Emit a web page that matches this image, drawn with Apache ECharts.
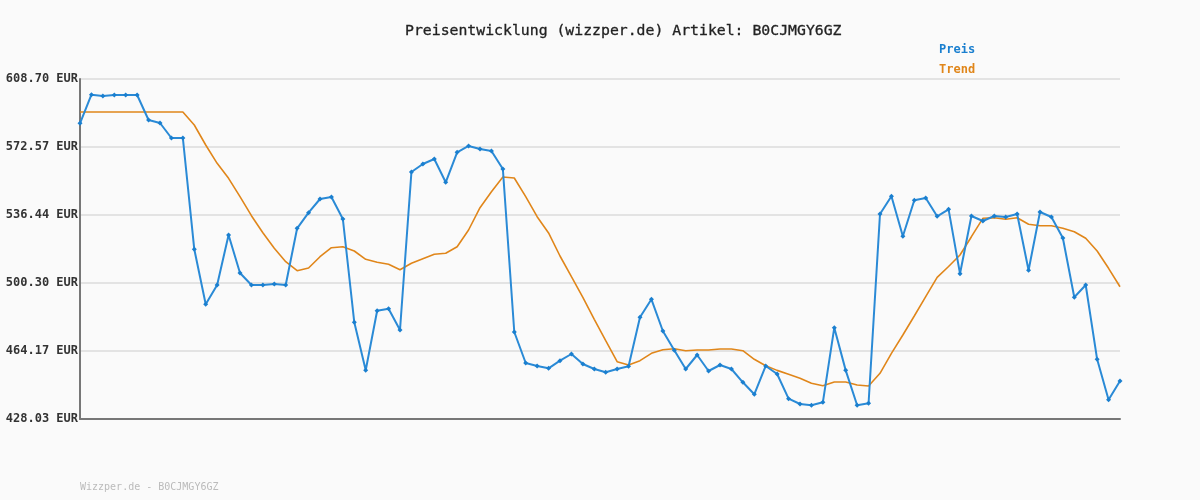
<!DOCTYPE html>
<html><head><meta charset="utf-8">
<script src="https://cdn.jsdelivr.net/npm/echarts@6/dist/echarts.min.js"></script>
<style>html,body{margin:0;padding:0;background:#fafafa}#c{width:1200px;height:500px}</style>
</head><body><div id="c"></div>
<script>
const yMin = 428.03, yMax = 608.70;
const yTicks = [428.03, 464.17, 500.30, 536.44, 572.57, 608.70];
const preis = [585.16,600.36,599.67,600.2,600.2,600.2,586.91,585.32,577.35,577.35,
518.21,488.98,499.23,525.80,505.61,499.23,499.23,499.77,499.23,
529.36,537.65,544.94,546.0,534.31,479.41,453.92,485.58,486.65,475.33,
559.28,563.53,566.19,553.81,
569.75,573.1,571.5,570.44,560.88,474.26,457.79,456.20,454.97,459.01,462.57,457.26,454.60,452.84,454.60,456.04,482.08,491.64,474.80,464.54,454.60,462.04,453.54,456.73,454.60,447.53,441.15,456.20,451.95,438.82,436.0,435.31,436.9,476.56,453.87,435.31,
436.37,536.96,546.37,525.11,544.24,545.47,535.74,539.46,505.24,535.90,533.24,535.90,535.37,536.96,507.04,538.03,535.37,524.21,492.70,499.23,459.75,438.28,448.23];
const trend = [591.16,591.16,591.16,591.16,591.16,591.16,591.16,591.16,591.16,591.16,
584.26,573.63,563.9,555.93,546.16,536.06,527.03,518.74,511.62,506.83,508.27,514.27,519.06,519.59,517.3,512.9,511.3,510.24,507.37,510.77,513.2,515.55,516.08,
519.59,528.46,540.31,548.81,556.62,556.1,546.16,535.53,526.90,514.64,503.64,492.70,481.01,469.64,458.48,456.73,459.01,462.94,464.85,465.39,464.32,464.70,464.70,465.23,465.23,464.32,459.75,456.36,453.87,451.78,449.66,447.0,445.72,447.69,447.69,446.10,
445.57,452.31,462.94,472.67,482.76,493.02,503.33,509.06,515.17,524.9,534.68,535.0,534.15,535.0,531.49,530.75,530.75,529.36,527.56,524.05,517.30,508.11,498.33];
const cats = preis.map((_, i) => String(i + 1));
const step = (yMax - yMin) / 5;
const off = a => a.map(v => +(v - yMin).toFixed(3));
const mono = 'DejaVu Sans Mono';
const chart = echarts.init(document.getElementById('c'));
chart.setOption({
  backgroundColor: '#fafafa',
  animation: false,
  title: { text: 'Preisentwicklung (wizzper.de) Artikel: B0CJMGY6GZ', left: 400, top: 19,
    textStyle: { fontFamily: mono, fontSize: 14.8, fontWeight: 'normal', color: '#222', textBorderColor: '#222', textBorderWidth: 0.3 } },
  legend: { orient: 'vertical', left: 934, top: 39, itemGap: 8, itemWidth: 0, itemHeight: 0, icon: 'none',
    data: [ { name: 'Preis', textStyle: { color: '#1a7fcf' } }, { name: 'Trend', textStyle: { color: '#e0861a' } } ],
    textStyle: { fontFamily: mono, fontSize: 12, fontWeight: 'bold', padding: [0,0,0,-5] } },
  graphic: [{ type: 'text', left: 80, top: 482, style: { text: 'Wizzper.de - B0CJMGY6GZ', fill: '#bbb', font: '10px ' + mono } }],
  grid: { left: 80, right: 80, top: 79, bottom: 81 },
  xAxis: { type: 'category', data: cats, boundaryGap: false,
    axisLine: { lineStyle: { color: '#777', width: 2 } }, axisTick: { show: false }, axisLabel: { show: false } },
  yAxis: { type: 'value', min: 0, max: +(yMax - yMin).toFixed(3), interval: step,
    axisLine: { show: true, lineStyle: { color: '#777', width: 2 } },
    splitLine: { lineStyle: { color: '#e3e3e3', width: 2 } },
    axisLabel: { fontFamily: mono, fontSize: 12, fontWeight: 'bold', color: '#333', margin: 2,
      formatter: v => { let best = yTicks.reduce((a, b) => Math.abs(b - yMin - v) < Math.abs(a - yMin - v) ? b : a); return best.toFixed(2) + ' EUR'; } } },
  series: [
    { name: 'Preis', type: 'line', data: off(preis), symbol: 'diamond', symbolSize: 5, showAllSymbol: true,
      itemStyle: { color: '#1a7fcf' }, lineStyle: { color: '#2a8ad6', width: 2 }, z: 3 },
    { name: 'Trend', type: 'line', data: off(trend), showSymbol: false,
      lineStyle: { color: '#e0861a', width: 1.6 }, itemStyle: { color: '#e0861a' }, z: 2 }
  ]
});
</script></body></html>
